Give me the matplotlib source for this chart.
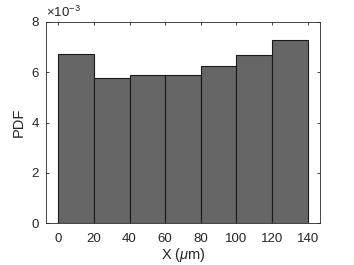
import numpy as np
import matplotlib.pyplot as plt

plt.rcParams['font.family'] = ['Liberation Sans', 'DejaVu Sans']
plt.rcParams['mathtext.fontset'] = 'custom'
plt.rcParams['mathtext.it'] = 'Liberation Sans:italic'
plt.rcParams['mathtext.rm'] = 'Liberation Sans'

# histogram data (PDF per bin)
bin_edges = [0, 20, 40, 60, 80, 100, 120, 140]
pdf_values = [6.72e-3, 5.76e-3, 5.88e-3, 5.91e-3, 6.25e-3, 6.67e-3, 7.29e-3]
x_ticks = [0, 20, 40, 60, 80, 100, 120, 140]
y_ticks = [0, 2e-3, 4e-3, 6e-3, 8e-3]
y_tick_labels = ['0', '2', '4', '6', '8']

fig = plt.figure(figsize=(3.54, 2.65), dpi=100)
ax = fig.add_axes([46 / 354, 1 - 223 / 265, (320 - 46) / 354, (223 - 22) / 265])

widths = np.diff(bin_edges)
ax.bar(bin_edges[:-1], pdf_values, width=widths, align='edge',
       color='#666666', edgecolor='#1a1a1a', linewidth=0.8)

ax.set_xlim(-6.9, 146.9)
ax.set_ylim(0, 8e-3)
ax.set_xticks(x_ticks)
ax.set_yticks(y_ticks)
ax.set_yticklabels(y_tick_labels)
ax.tick_params(direction='in', length=2.5, width=0.6, colors='#262626',
               labelsize=9.5, top=True, right=True)
ax.tick_params(axis='x', pad=7)
ax.tick_params(axis='y', pad=5)
for s in ax.spines.values():
    s.set_color('#262626')
    s.set_linewidth(0.6)

ax.set_xlabel(r'X ($\mu$m)', fontsize=10.5, color='#262626', labelpad=1)
ax.set_ylabel('PDF', fontsize=10.5, color='#262626', labelpad=4)
ax.text(0.0, 1.01, r'$\times10^{-3}$', transform=ax.transAxes,
        fontsize=9.5, color='#262626', ha='left', va='bottom')

fig.savefig('out.png', dpi=100)
